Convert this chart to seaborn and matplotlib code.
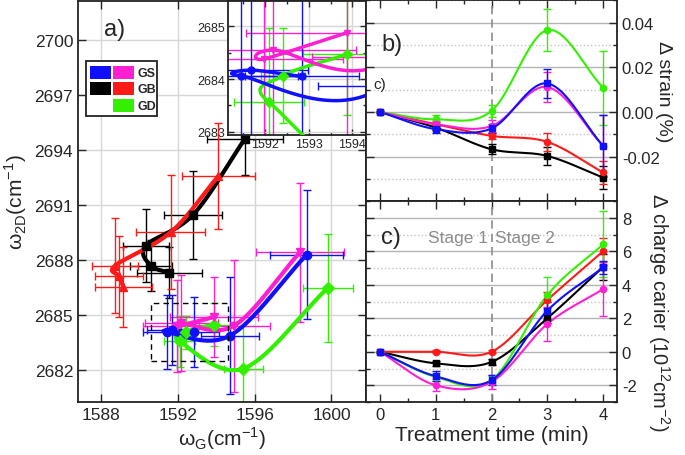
import numpy as np
import matplotlib
matplotlib.use("Agg")
from matplotlib import pyplot as plt
from matplotlib.patches import Rectangle
from matplotlib.ticker import MultipleLocator, FormatStrFormatter
import seaborn as sns

# ---- panel a: omega_G vs omega_2D (treatment steps 0..4) ----
gs1_g = [1592.84, 1591.69, 1591.46, 1594.72, 1598.71]
gs1_2d = [2684.05, 2684.17, 2684.06, 2683.87, 2688.28]
gs1_gerr = [1.3, 1.3, 1.3, 1.5, 1.9]
gs1_2derr = [1.9, 1.9, 2.0, 3.2, 3.5]

gs2_g = [1593.88, 1591.98, 1592.19, 1594.93, 1598.36]
gs2_2d = [2684.88, 2684.38, 2684.55, 2684.41, 2688.41]
gs2_gerr = [2.3, 1.8, 1.9, 1.85, 2.3]
gs2_2derr = [2.2, 2.5, 2.6, 3.6, 3.8]

gb1_g = [1591.56, 1590.59, 1590.33, 1592.8, 1595.5]
gb1_2d = [2687.29, 2687.68, 2688.77, 2690.46, 2694.6]
gb1_gerr = [1.7, 1.1, 1.2, 1.5, 2.0]
gb1_2derr = [1.4, 1.4, 2.0, 2.4, 2.0]

gb2_g = [1589.16, 1588.95, 1588.73, 1591.63, 1594.1]
gb2_2d = [2686.52, 2687.1, 2687.68, 2689.5, 2692.55]
gb2_gerr = [1.5, 1.25, 1.2, 1.8, 1.9]
gb2_2derr = [2.2, 2.2, 2.6, 3.1, 2.9]

gd_g = [1593.88, 1592.41, 1592.10, 1595.41, 1599.81]
gd_2d = [2684.47, 2684.06, 2683.56, 2682.07, 2686.47]
gd_gerr = [1.0, 0.5, 0.8, 1.0, 1.3]
gd_2derr = [1.15, 0.9, 1.4, 2.3, 2.95]

# ---- panels b, c: vs treatment time ----
times = [0, 1, 2, 3, 4]
strain_gs1 = [0, -0.0077, -0.0074, 0.0128, -0.0152]
strain_gs2 = [0, -0.0055, -0.0063, 0.0112, -0.0152]
strain_gb1 = [0, -0.0070, -0.0167, -0.0197, -0.0294]
strain_gb2 = [0, -0.0055, -0.0107, -0.0134, -0.0271]
strain_gd = [0, -0.0033, 0.0005, 0.0367, 0.0109]
strain_gs1_err = [0, 0.0015, 0.002, 0.0065, 0.0137]
strain_gs2_err = [0, 0.0015, 0.0025, 0.0068, 0.014]
strain_gb1_err = [0, 0.001, 0.0022, 0.004, 0.005]
strain_gb2_err = [0, 0.001, 0.0015, 0.0039, 0.005]
strain_gd_err = [0, 0.002, 0.0028, 0.0095, 0.0166]

carrier_gs1 = [0, -1.46, -1.7, 2.45, 5.03]
carrier_gs2 = [0, -2.0, -1.8, 1.66, 3.74]
carrier_gb1 = [0, -0.69, -0.61, 2.0, 5.06]
carrier_gb2 = [0, 0, 0, 3.09, 6.0]
carrier_gd = [0, -1.5, -1.7, 3.38, 6.41]
carrier_gs1_err = [0, 0.3, 0.3, 0.5, 0.4]
carrier_gs2_err = [0, 0.35, 0.4, 1.0, 1.6]
carrier_gb1_err = [0, 0.15, 0.2, 0.3, 0.8]
carrier_gb2_err = [0, 0.1, 0.1, 0.5, 0.8]
carrier_gd_err = [0, 0.25, 0.25, 1.06, 1.97]

BLUE, MAG, BLACK, RED, GREEN = "#1010ff", "#ff1fd2", "#000000", "#ff1a1a", "#33f000"

sns.set_style("ticks")
plt.rcParams["font.family"] = ["Liberation Sans", "DejaVu Sans"]
plt.rcParams["axes.unicode_minus"] = False
plt.rcParams["mathtext.fontset"] = "custom"
plt.rcParams["mathtext.rm"] = "Liberation Sans"


def smooth(xs, ys, n=40):
    """Catmull-Rom curve through the points (Origin-like spline connection)."""
    p = np.column_stack([xs, ys]).astype(float)
    p = np.vstack([2 * p[0] - p[1], p, 2 * p[-1] - p[-2]])
    t = np.linspace(0, 1, n)[:, None]
    out = []
    for i in range(1, len(p) - 2):
        p0, p1, p2, p3 = p[i - 1], p[i], p[i + 1], p[i + 2]
        seg = 0.5 * (2 * p1 + (-p0 + p2) * t + (2 * p0 - 5 * p1 + 4 * p2 - p3) * t ** 2
                     + (-p0 + 3 * p1 - 3 * p2 + p3) * t ** 3)
        out.append(seg)
    c = np.vstack(out)
    return c[:, 0], c[:, 1]


def style(ax):
    ax.tick_params(which="both", direction="in", top=True, right=True, width=1)
    ax.tick_params(which="major", length=6)
    ax.tick_params(which="minor", length=3)
    for s in ax.spines.values():
        s.set_linewidth(1.3)
        s.set_color("#222222")


fig = plt.figure(figsize=(6.85, 4.56), dpi=100)
W, H = 685, 456


def px_axes(x0, y0, x1, y1):
    return fig.add_axes([x0 / W, 1 - y1 / H, (x1 - x0) / W, (y1 - y0) / H])


# ---------------- panel a ----------------
ax = px_axes(78, 2, 366, 403)
style(ax)
ax.set_xlim(1586.8, 1601.8)
ax.set_ylim(2680.25, 2702.1)
ax.xaxis.set_major_locator(MultipleLocator(4))
ax.yaxis.set_major_locator(MultipleLocator(3))
ax.grid(True, color="#d6d6d6", lw=1)
ax.set_axisbelow(True)
ax.tick_params(labelsize=12.5)
ax.set_xlabel(r"ω$_{\mathregular{G}}$(cm$^{\mathregular{-1}}$)", fontsize=15, labelpad=2)
ax.set_ylabel(r"ω$_{\mathregular{2D}}$(cm$^{\mathregular{-1}}$)", fontsize=15, labelpad=4)

series_a = [
    (gb1_g, gb1_2d, gb1_gerr, gb1_2derr, BLACK, "s"),
    (gb2_g, gb2_2d, gb2_gerr, gb2_2derr, RED, "^"),
    (gd_g, gd_2d, gd_gerr, gd_2derr, GREEN, "D"),
    (gs2_g, gs2_2d, gs2_gerr, gs2_2derr, MAG, "v"),
    (gs1_g, gs1_2d, gs1_gerr, gs1_2derr, BLUE, "o"),
]


def draw_a(axis, lw, ms, elw):
    for gx, gy, ex, ey, col, mk in series_a:
        axis.errorbar(gx, gy, xerr=ex, yerr=ey, fmt="none", ecolor=col,
                      elinewidth=elw, capsize=3, capthick=elw, zorder=2)
        cx, cy = smooth(gx, gy)
        sns.lineplot(x=cx, y=cy, sort=False, estimator=None, color=col, lw=lw,
                     ax=axis, zorder=3)
        axis.plot(gx, gy, mk, color=col, ms=ms, zorder=4)


draw_a(ax, 3, 6, 1)
ax.add_patch(Rectangle((1590.6, 2682.5), 4.0, 3.17, fill=False, ls=(0, (4, 3)),
                       lw=1, ec="black", zorder=5))
ax.text(0.09, 0.93, "a)", transform=ax.transAxes, fontsize=17, ha="left", va="center")

# legend block drawn as patches
leg = [(90, 67, BLUE), (113, 67, MAG), (90, 83, BLACK), (113, 83, RED), (113, 100, GREEN)]
fig.patches.append(Rectangle((86 / W, 1 - 117 / H), 71 / W, 55 / H, transform=fig.transFigure,
                             fc="white", ec="#222222", lw=1.3, zorder=10))
for lx, ly, col in leg:
    fig.patches.append(Rectangle((lx / W, 1 - (ly + 13) / H), 21 / W, 13 / H,
                                 transform=fig.transFigure, fc=col, ec="none", zorder=11))
for lab, ly in [("GS", 74), ("GB", 90), ("GD", 107)]:
    fig.text(137 / W, 1 - ly / H, lab, fontsize=9, fontweight="bold", va="center", zorder=12)

# ---------------- inset ----------------
ins = px_axes(228, 2, 366, 136)
style(ins)
ins.set_facecolor("white")
ins.xaxis.set_major_locator(MultipleLocator(1))
ins.yaxis.set_major_locator(MultipleLocator(1))
ins.xaxis.set_minor_locator(MultipleLocator(0.5))
ins.yaxis.set_minor_locator(MultipleLocator(0.5))
ins.grid(True, color="#d6d6d6", lw=1)
ins.set_axisbelow(True)
ins.tick_params(labelsize=9, pad=2)
ins.tick_params(which="major", length=4)
ins.tick_params(which="minor", length=2)
draw_a(ins, 2.5, 5, 1)
ins.set_xlim(1591.16, 1594.31)
ins.set_ylim(2682.94, 2685.48)
fig.text(373 / W, 1 - 85 / H, "c)", fontsize=11, va="center")

# ---------------- panels b and c ----------------
series_t = [
    ("gb1", BLACK, "s"), ("gb2", RED, "o"), ("gd", GREEN, "o"),
    ("gs2", MAG, "o"), ("gs1", BLUE, "s"),
]
strain = {"gs1": (strain_gs1, strain_gs1_err), "gs2": (strain_gs2, strain_gs2_err),
          "gb1": (strain_gb1, strain_gb1_err), "gb2": (strain_gb2, strain_gb2_err),
          "gd": (strain_gd, strain_gd_err)}
carrier = {"gs1": (carrier_gs1, carrier_gs1_err), "gs2": (carrier_gs2, carrier_gs2_err),
           "gb1": (carrier_gb1, carrier_gb1_err), "gb2": (carrier_gb2, carrier_gb2_err),
           "gd": (carrier_gd, carrier_gd_err)}

axb = px_axes(366, 1, 617, 202)
axc = px_axes(366, 202, 617, 403)
for a, data, ylim, major, lab, fs in [
    (axb, strain, (-0.0399, 0.0502), 0.02, "Δ strain (%)", 14),
    (axc, carrier, (-3, 9), 2,
     r"Δ charge carier (10$^{\mathregular{12}}$cm$^{\mathregular{-2}}$)", 14.5),
]:
    style(a)
    a.set_xlim(-0.25, 4.25)
    a.set_ylim(*ylim)
    a.xaxis.set_major_locator(MultipleLocator(1))
    a.xaxis.set_minor_locator(MultipleLocator(0.5))
    a.yaxis.set_major_locator(MultipleLocator(major))
    a.yaxis.set_minor_locator(MultipleLocator(major / 2))
    a.grid(True, axis="y", which="major", color="#b4b4b4", lw=1)
    a.grid(True, axis="y", which="minor", color="#c4c4c4", lw=1, ls=":")
    a.set_axisbelow(True)
    a.yaxis.tick_right()
    a.tick_params(which="both", left=True, right=True, labelleft=False, labelright=True,
                  labelsize=12)
    a.yaxis.set_label_position("right")
    a.set_ylabel(lab, fontsize=fs, rotation=270, labelpad=18)
    a.axvline(2, color="#8c8c8c", ls=(0, (5, 3)), lw=1.2, zorder=1)
    for key, col, mk in series_t:
        vals, errs = data[key]
        a.errorbar(times, vals, yerr=errs, fmt="none", ecolor=col, elinewidth=1,
                   capsize=3, capthick=1, zorder=2)
        cx, cy = smooth(times, vals)
        sns.lineplot(x=cx, y=cy, sort=False, estimator=None, color=col, lw=1.5,
                     ax=a, zorder=3)
        a.plot(times, vals, mk, color=col, ms=4.5, zorder=4)

axb.yaxis.set_major_formatter(FormatStrFormatter("%.2f"))
axb.tick_params(labelbottom=False)
axb.yaxis.set_label_coords(1.22, 0.55)
axc.yaxis.set_major_formatter(FormatStrFormatter("%d"))
axc.yaxis.set_label_coords(1.22, 0.45)
axc.set_xlabel("Treatment time (min)", fontsize=15, labelpad=2)
axb.text(0.06, 0.78, "b)", transform=axb.transAxes, fontsize=17, va="center")
axc.text(0.06, 0.82, "c)", transform=axc.transAxes, fontsize=17, va="center")
axc.text(1.93, 6.85, "Stage 1", color="#8c8c8c", fontsize=12.5, ha="right", va="center")
axc.text(2.07, 6.85, "Stage 2", color="#8c8c8c", fontsize=12.5, ha="left", va="center")

fig.savefig("out.png", dpi=100)
